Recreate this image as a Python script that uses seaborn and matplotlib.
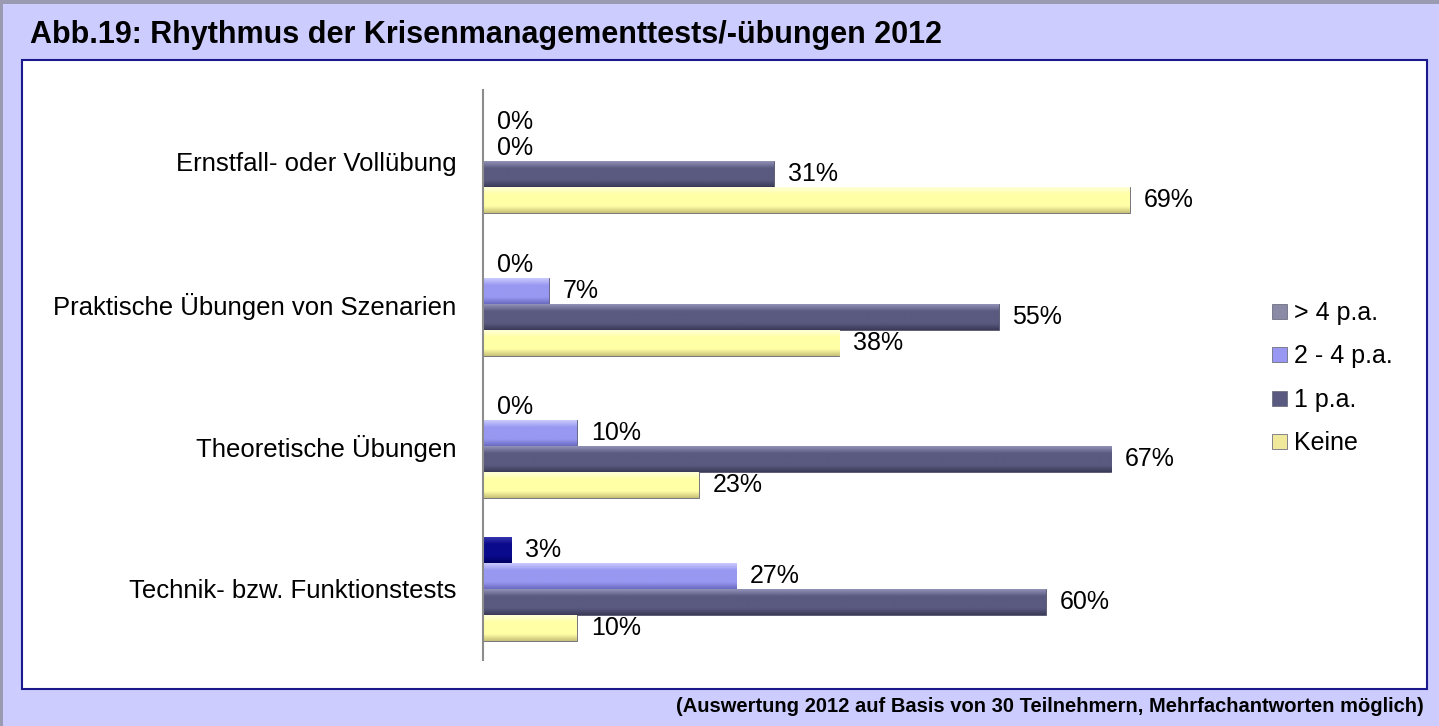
"""
Abb.19: Rhythmus der Krisenmanagementtests/-übungen 2012
"""

import numpy as np
import pandas as pd
import matplotlib
matplotlib.use("Agg")
import matplotlib.pyplot as plt
from matplotlib.patches import Rectangle, Patch
from matplotlib.colors import LinearSegmentedColormap
import seaborn as sns

# Data (percent of respondents)
CATEGORIES = [
    "Ernstfall- oder Vollübung",
    "Praktische Übungen von Szenarien",
    "Theoretische Übungen",
    "Technik- bzw. Funktionstests",
]
SERIES = ["> 4 p.a.", "2 - 4 p.a.", "1 p.a.", "Keine"]
OVER_4 = [0, 0, 0, 3]
TWO_TO_4 = [0, 7, 10, 27]
ONE_PA = [31, 55, 67, 60]
NONE = [69, 38, 23, 10]

TITLE = "Abb.19: Rhythmus der Krisenmanagementtests/-übungen 2012"
FOOTER = "(Auswertung 2012 auf Basis von 30 Teilnehmern, Mehrfachantworten möglich)"

BAR_COLORS = {"> 4 p.a.": "#0A0A8C", "2 - 4 p.a.": "#9898F2",
              "1 p.a.": "#5A5A80", "Keine": "#FFFFA6"}
# light top / dark bottom shades for the bevel look
SHADES = {"> 4 p.a.": ("#3A3AB0", "#000060"),
          "2 - 4 p.a.": ("#D0D0FF", "#6A6AC0"),
          "1 p.a.": ("#9A9AC0", "#3A3A58"),
          "Keine": ("#FFFFE0", "#C8C078")}
LEGEND_COLORS = {"> 4 p.a.": "#8A8AA6", "2 - 4 p.a.": "#9898F2",
                 "1 p.a.": "#5A5A80", "Keine": "#F0E89A"}

W, H = 1439, 726

sns.set_style("white")
plt.rcParams['font.family'] = ['Liberation Sans', 'DejaVu Sans']
plt.rcParams['text.color'] = 'black'
plt.rcParams['ytick.color'] = 'black'

df = pd.DataFrame({
    "Kategorie": CATEGORIES * 4,
    "Rhythmus": np.repeat(SERIES, len(CATEGORIES)),
    "Wert": OVER_4 + TWO_TO_4 + ONE_PA + NONE,
})
df["Wert"] = df["Wert"] / 100.0

fig = plt.figure(figsize=(W / 100, H / 100), dpi=100)
fig.patch.set_facecolor("#CCCCFF")

# frame decoration
fig.patches.append(Rectangle((0, 1 - 4 / H), 1, 4 / H, transform=fig.transFigure,
                             facecolor="#9A9AB0", edgecolor="none", zorder=-2))
fig.patches.append(Rectangle((0, 0), 3 / W, 1, transform=fig.transFigure,
                             facecolor="#9A9AB0", edgecolor="none", zorder=-2))
fig.patches.append(Rectangle((22 / W, (H - 689) / H), (1427 - 22) / W, (689 - 60) / H,
                             transform=fig.transFigure, facecolor="white",
                             edgecolor="#1A1A8C", linewidth=1.5, zorder=-1))

x0, x1 = 483, 1233
y_top, y_bot = 90, 660
ax = fig.add_axes([x0 / W, (H - y_bot) / H, (x1 - x0) / W, (y_bot - y_top) / H])
ax.set_facecolor("none")

sns.barplot(data=df, y="Kategorie", x="Wert", hue="Rhythmus", hue_order=SERIES,
            order=CATEGORIES, orient="h", width=0.73, palette=BAR_COLORS,
            saturation=1, edgecolor="#40405A", linewidth=0.5, legend=False, ax=ax)

# vertical gradient inside every bar
for series, container in zip(SERIES, ax.containers):
    light, dark = SHADES[series]
    cmap = LinearSegmentedColormap.from_list(
        series, [(0, light), (0.3, BAR_COLORS[series]), (0.75, BAR_COLORS[series]), (1, dark)])
    for bar in container.patches:
        if bar.get_width() <= 0:
            continue
        bx, by = bar.get_x(), bar.get_y()
        bw, bh = bar.get_width(), bar.get_height()
        img = ax.imshow(np.linspace(0, 1, 64).reshape(-1, 1), cmap=cmap, aspect="auto",
                        extent=(bx, bx + bw, by + bh, by), origin="upper",
                        interpolation="bilinear", zorder=bar.get_zorder() + 0.1)
        img.set_clip_path(bar)

ax.set_xlim(0, 0.8)
ax.set_ylim(3.5, -0.5)

for container in ax.containers:
    ax.bar_label(container, labels=[f"{v * 100:.0f}%" for v in container.datavalues],
                 padding=10, fontsize=18, color="black")

sns.despine(ax=ax, top=True, right=True, bottom=True, left=False)
ax.spines["left"].set_color("#8C8C8C")
ax.spines["left"].set_linewidth(1.5)
ax.set_xticks([])
ax.set_xlabel("")
ax.set_ylabel("")
ax.tick_params(axis="y", which="major", length=0, pad=19, labelsize=18.5)
ax.set_yticks(np.arange(-0.5, 4, 1), minor=True)
ax.tick_params(axis="y", which="minor", length=5, width=1.5, color="#8C8C8C")

handles = [Patch(facecolor=LEGEND_COLORS[s], edgecolor="#707080", linewidth=0.6) for s in SERIES]
fig.legend(handles, SERIES, loc="upper left",
           bbox_to_anchor=(1272 / W, (H - 301) / H), frameon=False,
           fontsize=18, handlelength=0.6, handleheight=0.55, handletextpad=0.3,
           labelspacing=0.78, borderaxespad=0, borderpad=0)

fig.text(30 / W, (H - 35) / H, TITLE, fontsize=22, fontweight="bold",
         ha="left", va="center")
fig.text(1424 / W, (H - 707) / H, FOOTER, fontsize=14.5, fontweight="bold",
         ha="right", va="center")

fig.savefig("out.png", dpi=100, facecolor=fig.get_facecolor())
